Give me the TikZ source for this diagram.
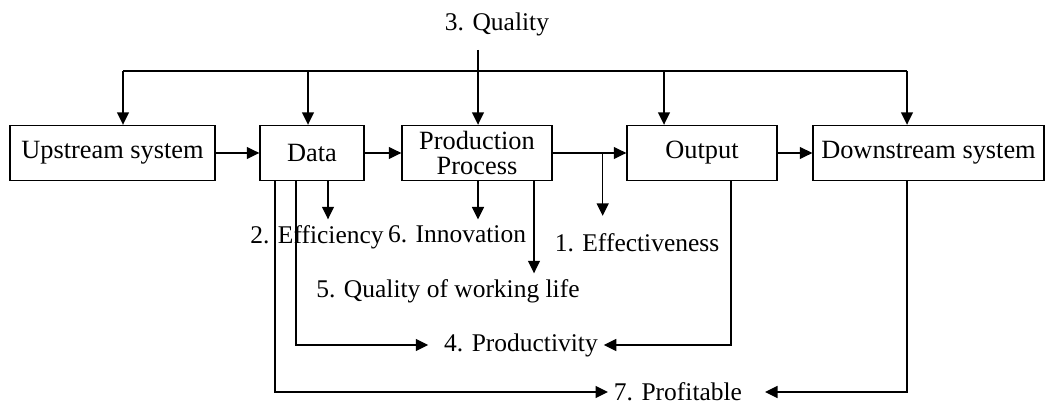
\documentclass[tikz,border=0pt]{standalone}
\usepackage{fontspec}
\setmainfont{Liberation Serif}
\usetikzlibrary{arrows.meta, positioning}

\begin{document}
\begin{tikzpicture}[
        x=0.02cm, y=-0.02cm,
        >={Triangle[length=2.5mm, width=2.4mm]},
        line width=0.8pt,
        blk/.style={draw, minimum height=1.1cm, inner sep=0pt, align=center,
                    font=\fontsize{15}{14}\selectfont},
        lbl/.style={inner sep=3pt, font=\fontsize{14.5}{14}\selectfont}
    ]
        \useasboundingbox (0,0) rectangle (1046,405);

        % main chain
        \node[blk, minimum width=4.1cm]  (up)   at (112.5,153) {Upstream system};
        \node[blk, minimum width=2.08cm] (data) at (312,153)   {Data};
        \node[blk, minimum width=3cm]    (proc) at (477,153)   {Production\\Process};
        \node[blk, minimum width=3cm]    (out)  at (702,153)   {Output};
        \node[blk, minimum width=4.62cm] (down) at (928.5,153) {Downstream system};

        \draw[->] (up) -- (data);
        \draw[->] (data) -- (proc);
        \draw[->] (proc) -- (out);
        \draw[->] (out) -- (down);

        % performance labels
        \node[lbl] (qual) at (497,24)  {3. Quality};
        \node[lbl] (eff)  at (317,237) {2. Efficiency};
        \node[lbl] (inno) at (457,234) {6. Innovation};
        \node[lbl] (effc) at (637,243) {1. Effectiveness};
        \node[lbl] (qwl)  at (448,291) {5. Quality of working life};
        \node[lbl] (prdv) at (521,345) {4. Productivity};
        \node[lbl] (prft) at (678,392) {7. Profitable};

        % quality bar over all boxes
        \path (proc.north) ++(1,-75) coordinate (qtop);
        \path (qtop) ++(-355,21) coordinate (barL) ++(784,0) coordinate (barR);
        \draw[->] (qtop) -- (qtop |- proc.north);
        \draw (barL) -- (barR);
        \foreach \n/\dx in {up/0, data/185, out/541, down/784} {
            \path (barL) ++(\dx,0) coordinate (q\n);
            \draw[->] (q\n) -- (q\n |- \n.north);
        }

        % lines below the boxes
        \path (data.south) ++(-37,0) coordinate (dA) ++(21,0) coordinate (dB)
              ++(32,0) coordinate (dC);
        \path (proc.south) ++(1,0) coordinate (pA) ++(56,0) coordinate (pB);
        \path (proc.east) ++(50,0) coordinate (brE);
        \path (out.south) ++(29,0) coordinate (oA);
        \path (down.south) ++(-21.5,0) coordinate (wA);

        \draw[->] (dC) -- (dC |- eff.north);
        \draw[->] (pA) -- (pA |- inno.north);
        \draw[->] (pB) -- (pB |- qwl.north);
        \draw[->] (brE) -- ([yshift=0.24cm]brE |- effc.north);
        \draw[->] (dB) |- ([xshift=-0.2cm]prdv.west);
        \draw[->] (oA) |- (prdv.east);
        \draw[->] (dA) |- (prft.west);
        \draw[->] (wA) |- ([xshift=0.34cm]prft.east);

    \end{tikzpicture}
\end{document}
